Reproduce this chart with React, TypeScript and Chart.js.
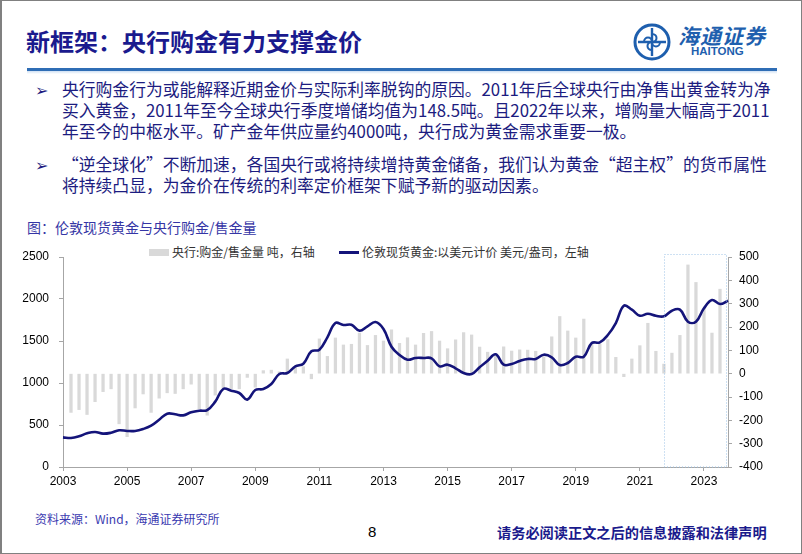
import React, { useEffect, useRef } from 'react';
import { Chart, registerables } from 'chart.js';

Chart.register(...registerables);

// ---- Data ----
const years = [2003, 2004, 2005, 2006, 2007, 2008, 2009, 2010, 2011, 2012, 2013, 2014, 2015, 2016, 2017, 2018, 2019, 2020, 2021, 2022, 2023];
const quarters = ['Q1', 'Q2', 'Q3', 'Q4'];
const quarterLabels: string[] = [];
years.forEach((y) => quarters.forEach((q) => quarterLabels.push(`${y}${q}`)));

// London spot gold, USD/oz (left axis)
const goldPrice = [
  353, 345, 365, 401, 417, 397, 408, 437,
  429, 429, 452, 492, 563, 635, 627, 615,
  651, 670, 678, 778, 929, 909, 881, 802,
  917, 929, 988, 1107, 1119, 1198, 1230, 1377,
  1397, 1544, 1714, 1690, 1694, 1623, 1675, 1726,
  1643, 1432, 1333, 1277, 1298, 1298, 1294, 1198,
  1218, 1175, 1119, 1107, 1187, 1266, 1341, 1218,
  1226, 1262, 1286, 1286, 1337, 1306, 1214, 1238,
  1313, 1313, 1476, 1484, 1571, 1714, 1920, 1873,
  1801, 1825, 1801, 1794, 1861, 1873, 1730, 1730,
  1889, 1988, 1940, 1980,
];

// Central bank net purchases / sales, tonnes (right axis)
const cbNetPurchase: (number | null)[] = [
  null, -166, -154, -175, -120, -77, -65, -215,
  -270, -147, -87, -166, -105, -82, -85, -65,
  -45, -150, -178, -92, -62, -64, -65, -16,
  -58, 13, 15, 8, 63, 25, 30, -22,
  149, 74, 153, 123, 126, 174, 121, 164,
  140, 188, 130, 154, 123, 173, 181, 140,
  107, 145, 176, 166, 114, 92, 75, 115,
  97, 102, 101, 96, 72, 158, 245, 183,
  153, 234, 125, 127, 146, 70, -13, 63,
  120, 216, 96, 41, 88, 164, 466, 391,
  280, 174, 362, null,
];

const leftAxis = { min: 0, max: 2500, step: 500 };
const rightAxis = { min: -400, max: 500, step: 100 };
const highlightFrom = '2021Q4';

const barLabel = '央行:购金/售金量 吨，右轴';
const lineLabel = '伦敦现货黄金:以美元计价 美元/盎司，左轴';

const NAVY = '#14147a';
const BAR_GRAY = '#d9d9d9';
const AXIS_GRAY = '#a6a6a6';

const highlightPlugin = {
  id: 'highlightBox',
  afterDatasetsDraw(chart: any) {
    const x = chart.scales.x;
    const area = chart.chartArea;
    const idx = quarterLabels.indexOf(highlightFrom);
    const left = Math.round(x.getPixelForValue(idx)) + 0.5;
    const right = Math.round(x.getPixelForValue(quarterLabels.length - 1)) - 1.5;
    const top = area.top - 2.5;
    const bottom = area.bottom;
    const ctx = chart.ctx;
    ctx.save();
    ctx.strokeStyle = '#9dc3e6';
    ctx.lineWidth = 1;
    ctx.setLineDash([1, 2]);
    ctx.strokeRect(left, top, right - left, bottom - top);
    ctx.restore();
  },
};

function GoldChart() {
  const ref = useRef<HTMLCanvasElement | null>(null);
  useEffect(() => {
    if (!ref.current) return;
    const tickFont = { family: '"Liberation Sans", Arial, sans-serif', size: 12 };
    const chart = new Chart(ref.current, {
      type: 'bar',
      data: {
        labels: quarterLabels,
        datasets: [
          {
            type: 'line',
            label: lineLabel,
            data: goldPrice,
            yAxisID: 'y',
            borderColor: NAVY,
            borderWidth: 2.6,
            pointRadius: 0,
            tension: 0.4,
            order: 0,
          } as any,
          {
            type: 'bar',
            label: barLabel,
            data: cbNetPurchase,
            yAxisID: 'y1',
            backgroundColor: BAR_GRAY,
            barThickness: 2.6,
            order: 1,
          } as any,
        ],
      },
      options: {
        animation: false,
        responsive: false,
        maintainAspectRatio: false,
        layout: { padding: { top: 18, left: 0, right: 0, bottom: 0 } },
        plugins: {
          legend: { display: false },
          tooltip: { enabled: false },
        },
        scales: {
          x: {
            type: 'category',
            offset: false,
            grid: { display: true, offset: false, drawOnChartArea: false, drawTicks: true, tickLength: 4, color: AXIS_GRAY },
            border: { display: true, color: AXIS_GRAY },
            afterBuildTicks: (scale: any) => {
              scale.ticks = scale.ticks.filter((t: any) => t.value % 8 === 0);
            },
            afterFit: (scale: any) => { scale.height = 32; },
            ticks: {
              autoSkip: false,
              maxRotation: 0,
              padding: 3,
              color: '#000',
              font: tickFont,
              callback: (v: any) => quarterLabels[v].slice(0, 4),
            },
          },
          y: {
            type: 'linear',
            position: 'left',
            min: leftAxis.min,
            max: leftAxis.max,
            grid: { display: true, drawOnChartArea: false, drawTicks: true, tickLength: 4, color: AXIS_GRAY },
            border: { display: true, color: AXIS_GRAY },
            afterFit: (scale: any) => { scale.width = 43; },
            ticks: { stepSize: leftAxis.step, padding: 10, color: '#000', font: tickFont, callback: (v: any) => String(v) },
          },
          y1: {
            type: 'linear',
            position: 'right',
            min: rightAxis.min,
            max: rightAxis.max,
            grid: { display: true, drawOnChartArea: false, drawTicks: true, tickLength: 4, color: AXIS_GRAY },
            border: { display: true, color: AXIS_GRAY },
            afterFit: (scale: any) => { scale.width = 62; },
            ticks: { stepSize: rightAxis.step, padding: 7, color: '#000', font: tickFont, callback: (v: any) => String(v) },
          },
        },
      } as any,
      plugins: [highlightPlugin],
    });
    return () => chart.destroy();
  }, []);
  return <canvas ref={ref} width={770} height={260} style={{ display: 'block', width: 770, height: 260 }} />;
}

const CJK = '"Noto Sans CJK SC", "Noto Sans", sans-serif';

function Line({ top, left, size, color, bold, children, lh }: any) {
  return (
    <div
      style={{
        position: 'absolute',
        top,
        left,
        fontSize: size,
        lineHeight: `${lh ?? size + 4}px`,
        color,
        fontWeight: bold ? 700 : 400,
        whiteSpace: 'nowrap',
        fontFamily: CJK,
      }}
    >
      {children}
    </div>
  );
}

function Logo() {
  return (
    <div style={{ position: 'absolute', left: 630, top: 21 }}>
      <svg width={40} height={40} viewBox="0 0 40 40">
        <circle cx={20} cy={20} r={17} fill="none" stroke="#1e5fae" strokeWidth={3} />
        <path d="M20 6 L20 34 M6 20 L34 20" stroke="#1e5fae" strokeWidth={2.4} fill="none" />
        <path d="M20 12 C26 12 26 20 20 20 C14 20 14 28 20 28" stroke="#1e5fae" strokeWidth={2} fill="none" />
        <path d="M12 20 C12 14 20 14 20 20 C20 26 28 26 28 20" stroke="#1e5fae" strokeWidth={2} fill="none" />
      </svg>
    </div>
  );
}

export default function App() {
  const textColor = '#1c1c80';
  return (
    <div
      style={{
        position: 'fixed',
        left: 0,
        top: 0,
        width: 802,
        height: 554,
        background: '#fff',
        boxSizing: 'border-box',
        border: '1px solid #808080',
        borderLeftWidth: 2,
        overflow: 'hidden',
      }}
    >
      {/* Header */}
      <Line top={25} left={24} size={24} lh={30} color="#1a1a8e" bold>
        新框架：央行购金有力支撑金价
      </Line>
      <Logo />
      <div style={{ position: 'absolute', left: 676, top: 22, fontSize: 21, lineHeight: '24px', color: '#1e5fae', fontFamily: CJK, fontWeight: 700, fontStyle: 'italic', letterSpacing: 1 }}>
        海通证券
      </div>
      <div style={{ position: 'absolute', left: 689, top: 44, fontSize: 11.5, lineHeight: '13px', color: '#1e5fae', fontFamily: '"Liberation Sans", Arial, sans-serif', fontWeight: 700 }}>
        HAITONG
      </div>
      <div style={{ position: 'absolute', left: 25, top: 67, width: 750, height: 3, background: '#2f6db5' }} />
      <div style={{ position: 'absolute', left: 25, top: 70, width: 750, height: 3, background: 'linear-gradient(#cfe0f3, #ffffff)' }} />

      {/* Bullets */}
      <Line top={78} left={33} size={16} lh={21} color={textColor}>
        <span style={{ fontFamily: '"DejaVu Sans", sans-serif' }}>➢</span>
      </Line>
      <Line top={78} left={60} size={16.8} lh={21} color={textColor}>
        央行购金行为或能解释近期金价与实际利率脱钩的原因。2011年后全球央行由净售出黄金转为净
      </Line>
      <Line top={99} left={60} size={16.8} lh={21} color={textColor}>
        买入黄金，2011年至今全球央行季度增储均值为148.5吨。且2022年以来，增购量大幅高于2011
      </Line>
      <Line top={120} left={60} size={16.8} lh={21} color={textColor}>
        年至今的中枢水平。矿产金年供应量约4000吨，央行成为黄金需求重要一极。
      </Line>
      <Line top={153} left={33} size={16} lh={21} color={textColor}>
        <span style={{ fontFamily: '"DejaVu Sans", sans-serif' }}>➢</span>
      </Line>
      <Line top={153} left={60} size={16.8} lh={21} color={textColor}>
        “逆全球化”不断加速，各国央行或将持续增持黄金储备，我们认为黄金“超主权”的货币属性
      </Line>
      <Line top={174} left={60} size={16.8} lh={21} color={textColor}>
        将持续凸显，为金价在传统的利率定价框架下赋予新的驱动因素。
      </Line>

      {/* Caption */}
      <Line top={216} left={25} size={14} lh={20} color="#3535a5">
        图：伦敦现货黄金与央行购金/售金量
      </Line>

      {/* Legend */}
      <div style={{ position: 'absolute', left: 147, top: 248, width: 20, height: 7, background: BAR_GRAY }} />
      <Line top={242} left={170} size={12} lh={18} color="#333">
        {barLabel}
      </Line>
      <div style={{ position: 'absolute', left: 337, top: 250, width: 20, height: 3, background: NAVY }} />
      <Line top={242} left={360} size={12} lh={18} color="#333">
        {lineLabel}
      </Line>

      {/* Chart */}
      <div style={{ position: 'absolute', left: 18, top: 238, width: 770, height: 260 }}>
        <GoldChart />
      </div>

      {/* Footer */}
      <Line top={509} left={33} size={12} lh={18} color="#3a3ab0">
        资料来源：Wind，海通证券研究所
      </Line>
      <div style={{ position: 'absolute', left: 366, top: 522, fontSize: 15, lineHeight: '18px', fontFamily: '"Liberation Sans", Arial, sans-serif', color: '#000' }}>
        8
      </div>
      <Line top={521} left={495} size={14.2} lh={20} color="#1a1a8c" bold>
        请务必阅读正文之后的信息披露和法律声明
      </Line>
    </div>
  );
}
